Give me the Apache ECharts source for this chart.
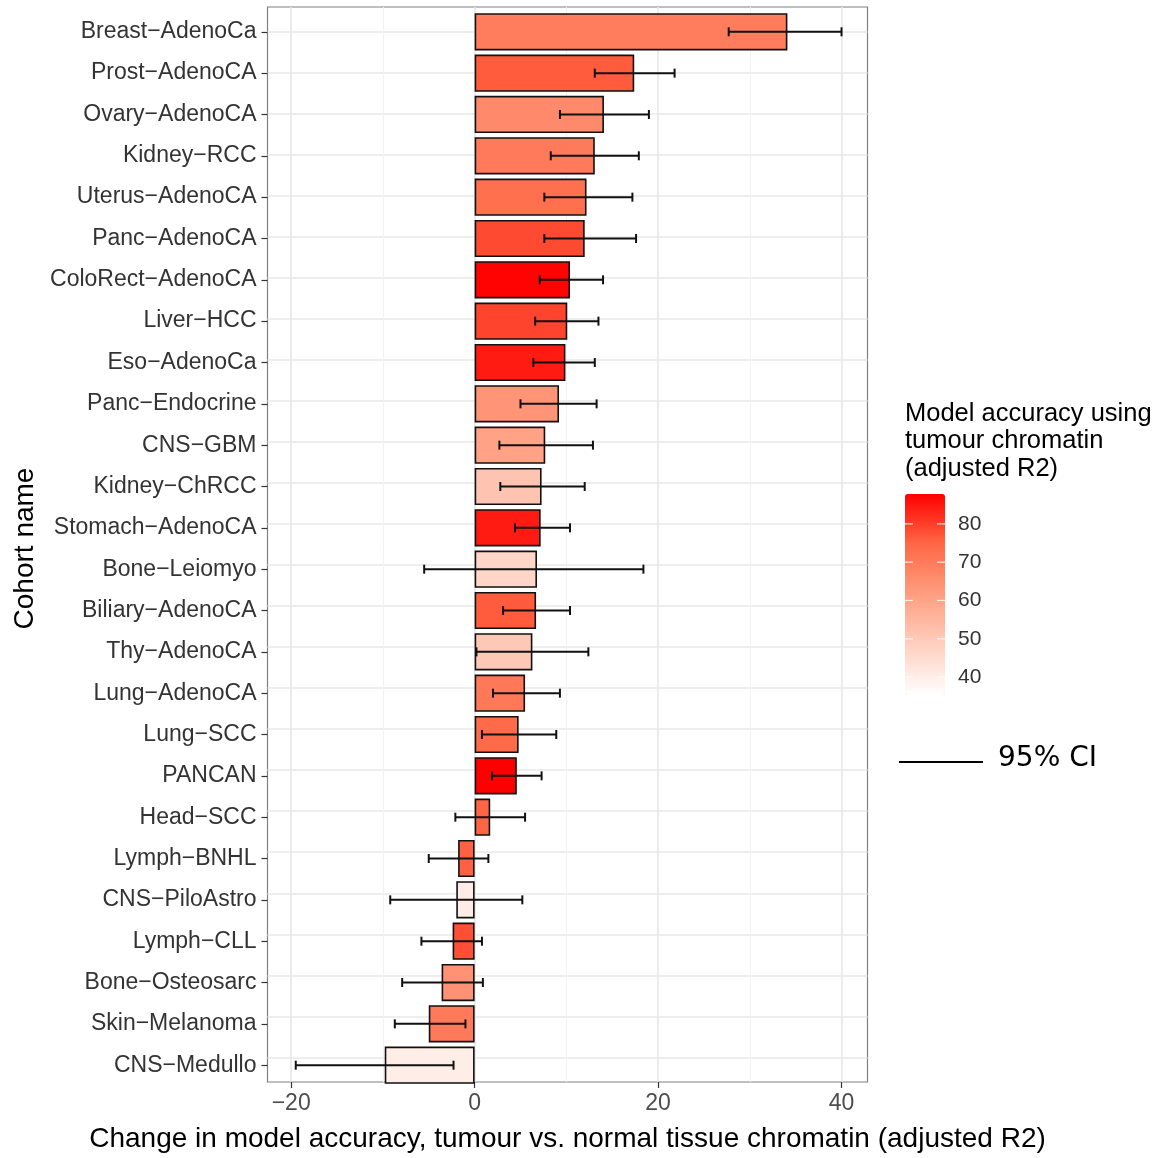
<!DOCTYPE html>
<html>
<head>
<meta charset="utf-8">
<script src="https://cdn.jsdelivr.net/npm/echarts@6/dist/echarts.min.js"></script>
<style>html,body{margin:0;padding:0;background:#fff}#c{width:1159px;height:1158px}</style>
</head>
<body>
<div id="c"></div>
<script>
const cohorts = ['Breast−AdenoCa','Prost−AdenoCA','Ovary−AdenoCA','Kidney−RCC','Uterus−AdenoCA','Panc−AdenoCA','ColoRect−AdenoCA','Liver−HCC','Eso−AdenoCa','Panc−Endocrine','CNS−GBM','Kidney−ChRCC','Stomach−AdenoCA','Bone−Leiomyo','Biliary−AdenoCA','Thy−AdenoCA','Lung−AdenoCA','Lung−SCC','PANCAN','Head−SCC','Lymph−BNHL','CNS−PiloAstro','Lymph−CLL','Bone−Osteosarc','Skin−Melanoma','CNS−Medullo'];
const change = [34.1,17.4,14.1,13.1,12.2,12.0,10.4,10.1,9.9,9.2,7.7,7.3,7.2,6.8,6.7,6.3,5.5,4.8,4.6,1.7,-1.8,-2.0,-2.4,-3.6,-5.0,-9.8];
const ciLow = [27.7,13.1,9.3,8.3,7.6,7.6,7.1,6.6,6.4,5.0,2.7,2.8,4.4,-5.5,3.1,0.2,2.0,0.8,1.9,-2.1,-5.0,-9.2,-5.8,-7.9,-8.7,-19.5];
const ciHigh = [40.0,21.8,19.0,17.9,17.2,17.6,14.0,13.5,13.1,13.3,12.9,12.0,10.4,18.4,10.4,12.4,9.3,8.9,7.3,5.5,1.5,5.2,0.8,0.9,-1.0,-2.3];
const accuracy = [69.6,76.3,66.4,70.3,72.7,78.4,87.5,79.2,84.5,64.0,60.5,51.4,84.5,46.5,76.3,50.5,70.5,74.2,87.8,75.0,75.5,40.5,77.8,64.5,70.3,40.0];
const xTicks = [-20,0,20,40];
const xMinorTicks = [-10,10,30];
const legendTicks = [40,50,60,70,80];
const accMin = 35.3, accMax = 87.8;

const FONT = 'Liberation Sans, Arial, sans-serif';
const PL = 267.5, PR = 867.5, PT = 7, PB = 1090;
const W = 1159, H = 1158;
const n = cohorts.length;
const band = (PB - PT) / (n - 1 + 1.2);
const xMin = -22.58, xMax = 42.83;

const barData = cohorts.map((c, i) => [change[i], c, accuracy[i]]);
const ciData = cohorts.map((c, i) => [ciLow[i], ciHigh[i], c]);
const rowVals = cohorts.map((c, i) => i);

const chart = echarts.init(document.getElementById('c'), null, {renderer: 'canvas'});

const cbTop = 494, cbH = 201, cbLeft = 905, cbW = 40;
const legendGraphics = [];
legendTicks.forEach(v => {
  const y = cbTop + (accMax - v) / (accMax - accMin) * cbH;
  legendGraphics.push({type:'line', shape:{x1:cbLeft, y1:y, x2:cbLeft+8, y2:y}, style:{stroke:'#ffffff', lineWidth:1.2, opacity:0.8}, z:100});
  legendGraphics.push({type:'line', shape:{x1:cbLeft+cbW-8, y1:y, x2:cbLeft+cbW, y2:y}, style:{stroke:'#ffffff', lineWidth:1.2, opacity:0.8}, z:100});
  legendGraphics.push({type:'text', x: cbLeft + cbW + 13, y: y, style:{text:String(v), font:'21px ' + FONT, fill:'#333', verticalAlign:'middle'}});
});
legendGraphics.push({type:'text', x: 905, y: 400, style:{text:'Model accuracy using\ntumour chromatin\n(adjusted R2)', font:'25.5px ' + FONT, fill:'#000', lineHeight:27.5, verticalAlign:'top'}});
legendGraphics.push({type:'line', shape:{x1:899, y1:762, x2:983, y2:762}, style:{stroke:'#000', lineWidth:2}});
legendGraphics.push({type:'text', x: 998, y: 759, style:{text:'95% CI', font:'28px DejaVu Sans, sans-serif', fill:'#000', verticalAlign:'middle'}});

const option = {
  backgroundColor: '#fff',
  animation: false,
  textStyle: {fontFamily: FONT},
  grid: [
    {left: PL, right: W - PR, top: PT + 0.1*band, bottom: H - PB + 0.1*band, show: false},
    {left: PL, right: W - PR, top: PT, bottom: H - PB, show: true, borderColor: '#808080', borderWidth: 1.2, backgroundColor: '#fff', z: 0}
  ],
  xAxis: [
    {type: 'value', gridIndex: 0, min: xMin, max: xMax, show: false, axisLine: {onZero: false}},
    {type: 'value', gridIndex: 1, min: xMin, max: xMax, position: 'bottom',
      axisLine: {show: false, onZero: false},
      axisTick: {show: true, length: 6, lineStyle: {color: '#333', width: 1.2}, customValues: xTicks},
      axisLabel: {fontSize: 23, color: '#4d4d4d', margin: 10, fontFamily: FONT, customValues: xTicks,
        formatter: v => String(v).replace('-', '−')},
      splitLine: {show: true, lineStyle: {color: '#e8e8e8', width: 1.6}},
      name: 'Change in model accuracy, tumour vs. normal tissue chromatin (adjusted R2)',
      nameLocation: 'middle', nameGap: 43,
      nameTextStyle: {fontSize: 28, color: '#000', fontFamily: FONT}
    },
    {type: 'value', gridIndex: 1, min: xMin, max: xMax, position: 'top',
      axisLine: {show: false, onZero: false}, axisLabel: {show: false},
      axisTick: {show: false, customValues: xMinorTicks},
      splitLine: {show: true, lineStyle: {color: '#f2f2f2', width: 1}}
    }
  ],
  yAxis: [
    {type: 'category', gridIndex: 0, data: cohorts, inverse: true,
      axisLine: {show: false, onZero: false},
      axisTick: {show: true, alignWithLabel: true, length: 6, lineStyle: {color: '#333', width: 1.2}},
      axisLabel: {fontSize: 23, color: '#333', margin: 11, fontFamily: FONT},
      splitLine: {show: false},
      name: 'Cohort name', nameLocation: 'middle', nameRotate: 90, nameGap: 227.5,
      nameTextStyle: {fontSize: 28, color: '#000', fontFamily: FONT}
    },
    {type: 'value', gridIndex: 1, min: -0.6, max: n - 1 + 0.6, inverse: true,
      axisLine: {show: false, onZero: false}, axisLabel: {show: false},
      axisTick: {show: false, customValues: rowVals},
      splitLine: {show: true, lineStyle: {color: '#e8e8e8', width: 1.6}}
    }
  ],
  visualMap: {
    type: 'continuous', seriesIndex: 0, dimension: 2, min: accMin, max: accMax,
    calculable: false, show: true, left: cbLeft - 15, top: cbTop - 15, itemWidth: cbW, itemHeight: cbH,
    text: null, showLabel: false, hoverLink: false,
    inRange: {color: ['#ffffff', '#ffcfbf', '#ff9e81', '#ff6846', '#ff0000']}
  },
  series: [
    {type: 'bar', xAxisIndex: 0, yAxisIndex: 0, data: barData, encode: {x: 0, y: 1},
      barWidth: '90%', itemStyle: {borderColor: '#111', borderWidth: 1.6}, z: 3},
    {type: 'custom', xAxisIndex: 0, yAxisIndex: 0, data: ciData, encode: {x: [0, 1], y: 2}, z: 4,
      renderItem: function (params, api) {
        const cat = api.value(2);
        const p1 = api.coord([api.value(0), cat]);
        const p2 = api.coord([api.value(1), cat]);
        const h = 4.5;
        const st = {stroke: '#111', lineWidth: 2};
        return {type: 'group', children: [
          {type: 'line', shape: {x1: p1[0], y1: p1[1], x2: p2[0], y2: p2[1]}, style: st},
          {type: 'line', shape: {x1: p1[0], y1: p1[1]-h, x2: p1[0], y2: p1[1]+h}, style: st},
          {type: 'line', shape: {x1: p2[0], y1: p2[1]-h, x2: p2[0], y2: p2[1]+h}, style: st}
        ]};
      }
    }
  ],
  graphic: legendGraphics
};
chart.setOption(option);
</script>
</body>
</html>
